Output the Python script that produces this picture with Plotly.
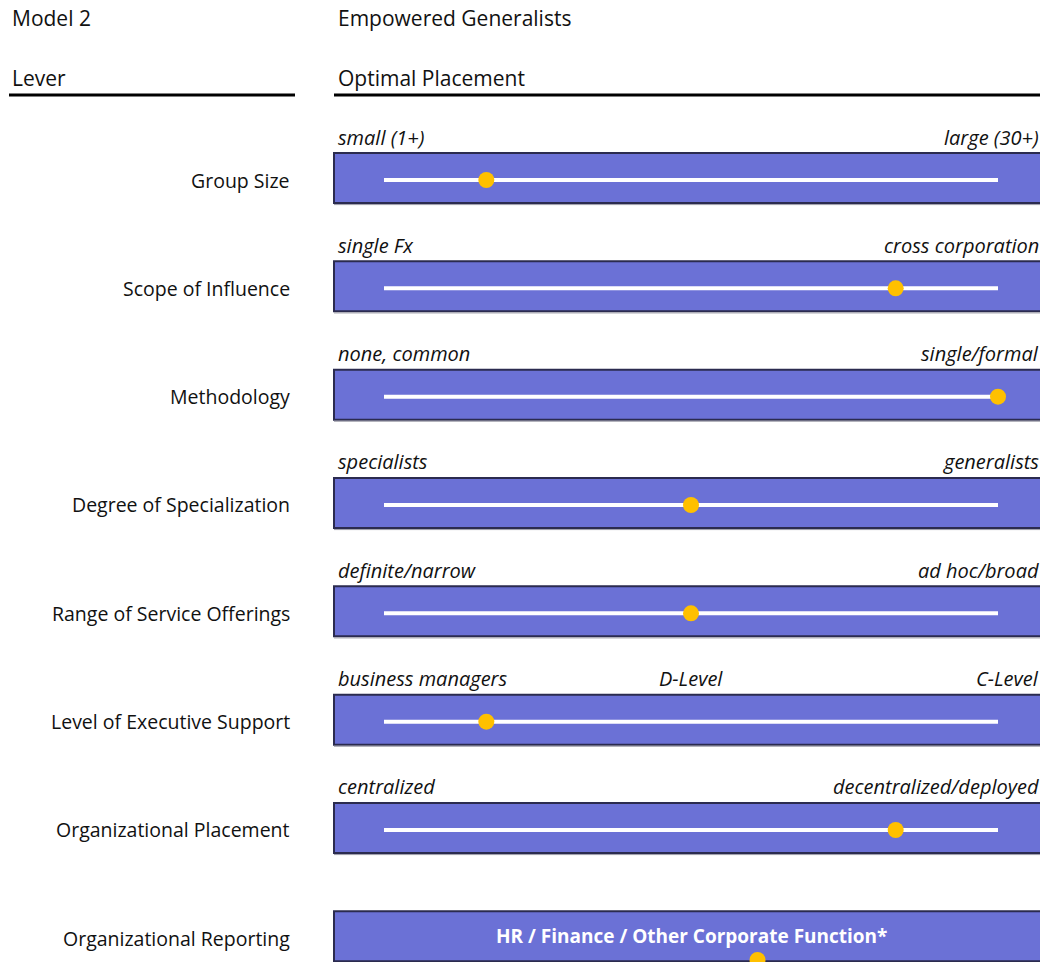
import plotly.graph_objects as go

# ---------------- data ----------------
levers = ["Group Size", "Scope of Influence", "Methodology", "Degree of Specialization",
          "Range of Service Offerings", "Level of Executive Support", "Organizational Placement"]
left_ends = ["small (1+)", "single Fx", "none, common", "specialists",
             "definite/narrow", "business managers", "centralized"]
right_ends = ["large (30+)", "cross corporation", "single/formal", "generalists",
              "ad hoc/broad", "C-Level", "decentralized/deployed"]
mid_labels = ["", "", "", "", "", "D-Level", ""]
placements = [1, 5, 6, 3, 3, 1, 5]          # position on a 0..6 scale
reporting_label = "Organizational Reporting"
reporting_text = "HR / Finance / Other Corporate Function*"
reporting_value = 3.65
scale_min, scale_max = 0, 6

# ---------------- layout helpers ----------------
W, H = 1040, 962
FONT = "Open Sans"
BAR = "#6B71D6"
DOT = "#FFC000"
px_per_unit = (998 - 384) / (scale_max - scale_min)
xr0 = scale_min - 384 / px_per_unit
xr1 = xr0 + W / px_per_unit
row_px = 108.33
row0_px = 180
yr_top = -row0_px / row_px
yr_bot = (H - row0_px) / row_px
half = 25 / row_px
off = -2 / row_px   # bars sit slightly above the track

n = len(levers)
rows = list(range(n))
fig = go.Figure()

shapes = []
annotations = []

def py(p):
    return 1 - p / H

# bars
for i in list(range(n)) + [n]:
    shapes.append(dict(type="rect", xref="paper", yref="y", x0=334 / W, x1=1.01,
                       y0=i - half + off, y1=i + half + off, fillcolor=BAR,
                       line=dict(color="#2B2B4F", width=2), layer="below"))
    shapes.append(dict(type="line", xref="paper", yref="y", x0=334 / W, x1=1.01,
                       y0=i + half + off + 1.6 / row_px, y1=i + half + off + 1.6 / row_px,
                       line=dict(color="#9A9AA6", width=1), layer="below"))

# header lines
shapes.append(dict(type="line", xref="paper", yref="paper", x0=9 / W, x1=295 / W,
                   y0=py(95), y1=py(95), line=dict(color="black", width=3)))
shapes.append(dict(type="line", xref="paper", yref="paper", x0=334 / W, x1=1.0,
                   y0=py(95), y1=py(95), line=dict(color="black", width=3)))

# white slider tracks
for i in rows:
    fig.add_trace(go.Scatter(x=[scale_min, scale_max], y=[i, i], mode="lines",
                             line=dict(color="white", width=4), hoverinfo="skip",
                             showlegend=False))

# placement dots
fig.add_trace(go.Scatter(x=placements, y=rows, mode="markers",
                         marker=dict(color=DOT, size=16, line=dict(width=0)),
                         showlegend=False))
fig.add_trace(go.Scatter(x=[reporting_value], y=[n + 0.2], mode="markers",
                         marker=dict(color=DOT, size=16, line=dict(width=0)),
                         showlegend=False, cliponaxis=False))

lab_font = dict(family=FONT, size=19.5, color="#111111")
it_font = dict(family=FONT, size=20, color="#111111", style="italic")

for i in rows:
    annotations.append(dict(x=292 / W, xref="paper", y=i, yref="y", text=levers[i],
                            xanchor="right", yanchor="middle", showarrow=False, font=lab_font))
    annotations.append(dict(x=336 / W, xref="paper", y=i - 43 / row_px, yref="y",
                            text=left_ends[i], xanchor="left", yanchor="middle",
                            showarrow=False, font=it_font))
    annotations.append(dict(x=1041 / W, xref="paper", y=i - 43 / row_px, yref="y",
                            text=right_ends[i], xanchor="right", yanchor="middle",
                            showarrow=False, font=it_font))
    if mid_labels[i]:
        annotations.append(dict(x=(scale_min + scale_max) / 2, xref="x", y=i - 43 / row_px,
                                yref="y", text=mid_labels[i], xanchor="center",
                                yanchor="middle", showarrow=False, font=it_font))

annotations.append(dict(x=292 / W, xref="paper", y=n, yref="y", text=reporting_label,
                        xanchor="right", yanchor="middle", showarrow=False, font=lab_font))
annotations.append(dict(x=(scale_min + scale_max) / 2, xref="x", y=n - 2 / row_px, yref="y",
                        text="<b>" + reporting_text + "</b>", xanchor="center",
                        yanchor="middle", showarrow=False,
                        font=dict(family=FONT, size=19, color="white")))

hdr_font = dict(family=FONT, size=21, color="#111111")
for txt, x, y in [("Model 2", 10, 18), ("Empowered Generalists", 336, 18),
                  ("Lever", 10, 78), ("Optimal Placement", 336, 78)]:
    annotations.append(dict(x=x / W, xref="paper", y=py(y), yref="paper", text=txt,
                            xanchor="left", yanchor="middle", showarrow=False, font=hdr_font))

fig.update_layout(
    width=W, height=H, margin=dict(l=0, r=0, t=0, b=0),
    paper_bgcolor="white", plot_bgcolor="white",
    xaxis=dict(range=[xr0, xr1], visible=False, fixedrange=True),
    yaxis=dict(range=[yr_bot, yr_top], visible=False, fixedrange=True),
    shapes=shapes, annotations=annotations, showlegend=False,
)
fig.write_html("out.html")
